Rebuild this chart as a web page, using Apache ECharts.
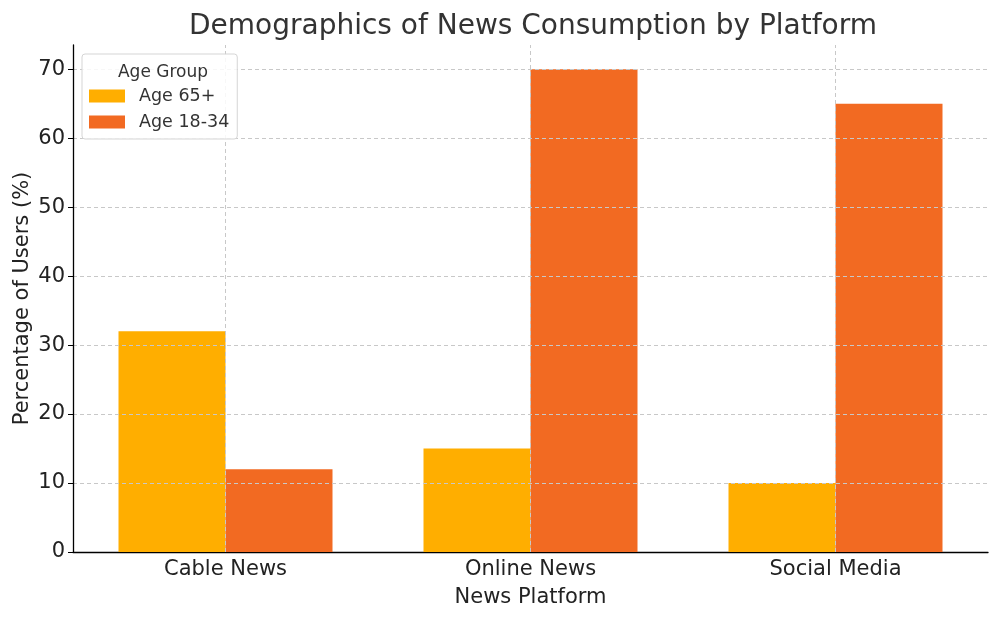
<!DOCTYPE html>
<html>
<head>
<meta charset="utf-8">
<script src="https://cdn.jsdelivr.net/npm/echarts@6/dist/echarts.min.js"></script>
<style>html,body{margin:0;padding:0;background:#fff}#c{width:1000px;height:620px}</style>
</head>
<body>
<div id="c"></div>
<script>
const categories = ['Cable News', 'Online News', 'Social Media'];
const age65 = [32, 15, 10];
const age1834 = [12, 70, 65];
const seriesNames = ['Age 65+', 'Age 18-34'];
const yTickValues = [0, 10, 20, 30, 40, 50, 60, 70];
const yMax = 73.5;

const F = 'DejaVu Sans';
const grid = '#c8c8c8';
const chart = echarts.init(document.getElementById('c'), null, { renderer: 'canvas' });
chart.setOption({
  backgroundColor: '#fff',
  animation: false,
  textStyle: { fontFamily: F },
  title: [
    { text: 'Demographics of News Consumption by Platform', left: 528, textAlign: 'center', top: 8,
      textStyle: { fontFamily: F, fontSize: 28, fontWeight: 'normal', color: '#333' } },
    { text: 'Age Group', left: 158, top: 59, textAlign: 'center', z: 20,
      textStyle: { fontFamily: F, fontSize: 17, fontWeight: 'normal', color: '#333' } }
  ],
  legend: {
    data: seriesNames, orient: 'vertical', left: 82, top: 54,
    padding: [33, 8, 8, 7], itemWidth: 36, itemHeight: 13, itemGap: 8,
    borderColor: '#d5d5d5', borderWidth: 1, borderRadius: 3,
    backgroundColor: 'rgba(255,255,255,0.85)',
    textStyle: { fontFamily: F, fontSize: 17.5, lineHeight: 18, color: '#333', padding: [0, 0, 0, 9] },
    icon: 'rect', z: 10
  },
  grid: { left: 73, right: 12, top: 45, bottom: 68, outerBoundsMode: 'none', containLabel: false },
  xAxis: {
    type: 'category', data: categories,
    name: 'News Platform', nameLocation: 'middle', nameGap: 35,
    nameTextStyle: { fontFamily: F, fontSize: 21, color: '#222' },
    axisLine: { lineStyle: { color: '#000', width: 1.3 } },
    axisTick: { alignWithLabel: true, length: 5, lineStyle: { color: '#000' } },
    axisLabel: { fontFamily: F, fontSize: 21, color: '#222', margin: 7 },
    splitLine: { show: false }
  },
  yAxis: {
    type: 'value', min: 0, max: yMax,
    name: 'Percentage of Users (%)', nameLocation: 'middle', nameGap: 40, nameMoveOverlap: false,
    nameTextStyle: { fontFamily: F, fontSize: 21, color: '#222' },
    axisLine: { show: true, lineStyle: { color: '#000', width: 1.3 } },
    axisTick: { show: true, length: 5, customValues: yTickValues, lineStyle: { color: '#000' } },
    axisLabel: { fontFamily: F, fontSize: 21, color: '#222', margin: 8, customValues: yTickValues },
    splitLine: { show: true, showMinLine: false, showMaxLine: true,
      lineStyle: { color: grid, type: [4, 3], width: 1 } },
    z: 5
  },
  series: [
    { name: seriesNames[0], type: 'bar', data: age65, barWidth: 107, barGap: '0%',
      itemStyle: { color: '#FFAE00' } },
    { name: seriesNames[1], type: 'bar', data: age1834, barWidth: 107, barGap: '0%',
      itemStyle: { color: '#F26A22' } },
    { name: 'vgrid', type: 'line', data: [], silent: true, z: 5,
      markLine: { silent: true, symbol: 'none', label: { show: false },
        lineStyle: { color: grid, type: [4, 3], width: 1 },
        data: categories.map(c => ({ xAxis: c })) } }
  ]
});
</script>
</body>
</html>
